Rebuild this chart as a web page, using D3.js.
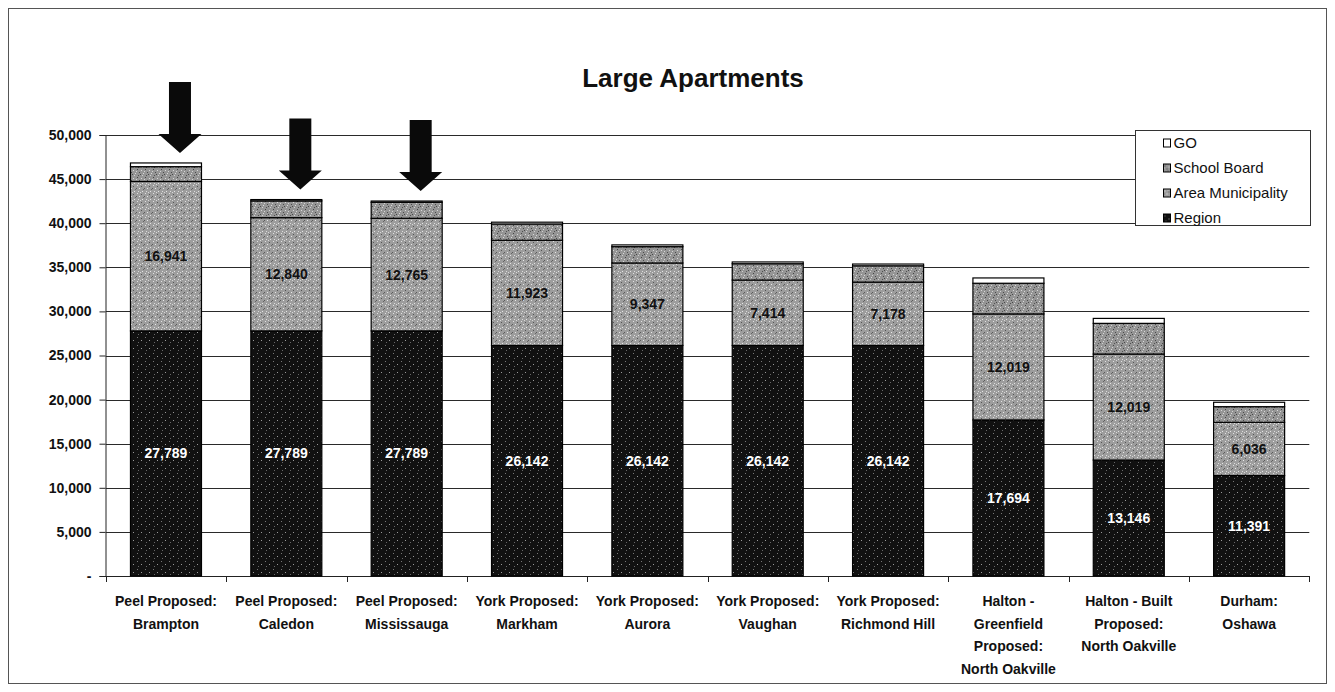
<!DOCTYPE html>
<html>
<head>
<meta charset="utf-8">
<script src="https://cdn.jsdelivr.net/npm/d3@7"></script>
<style>
  html, body { margin: 0; padding: 0; background: #fff; }
  svg { display: block; font-family: "Liberation Sans", Arial, sans-serif; }
</style>
</head>
<body>
<script>
// chart data
var categories = [
  "Peel Proposed:\nBrampton",
  "Peel Proposed:\nCaledon",
  "Peel Proposed:\nMississauga",
  "York Proposed:\nMarkham",
  "York Proposed:\nAurora",
  "York Proposed:\nVaughan",
  "York Proposed:\nRichmond Hill",
  "Halton -\nGreenfield\nProposed:\nNorth Oakville",
  "Halton - Built\nProposed:\nNorth Oakville",
  "Durham:\nOshawa"
];
var region       = [27789, 27789, 27789, 26142, 26142, 26142, 26142, 17694, 13146, 11391];
var areaMunicip  = [16941, 12840, 12765, 11923, 9347, 7414, 7178, 12019, 12019, 6036];
var schoolBoard  = [1680, 1900, 1810, 1850, 1850, 1850, 1850, 3480, 3480, 1770];
var goTransit    = [420, 150, 150, 200, 200, 200, 200, 600, 560, 500];
var seriesNames  = ["Region", "Area Municipality", "School Board", "GO"];
var yTicks       = [0, 5000, 10000, 15000, 20000, 25000, 30000, 35000, 40000, 45000, 50000];
var arrowBars    = [0, 1, 2];

var W = 1335, H = 692;
var svg = d3.select("body").append("svg").attr("width", W).attr("height", H);

// outer frame
svg.append("rect").attr("x", 8.5).attr("y", 8.5).attr("width", W - 17).attr("height", H - 17)
  .attr("fill", "#fff").attr("stroke", "#555").attr("stroke-width", 1);

var x = d3.scaleBand().domain(d3.range(categories.length)).range([105.8, 1309.3]).paddingInner(0.41).paddingOuter(0.205);
var y = d3.scaleLinear().domain([0, 50000]).range([576, 135]);

// texture patterns (scanned halftone look)
var defs = svg.append("defs");
function speckle(id, bg, dots) {
  var p = defs.append("pattern").attr("id", id).attr("patternUnits", "userSpaceOnUse")
    .attr("width", 8).attr("height", 8);
  p.append("rect").attr("width", 8).attr("height", 8).attr("fill", bg);
  dots.forEach(function(q) {
    p.append("rect").attr("x", q[0]).attr("y", q[1]).attr("width", 1).attr("height", 1).attr("fill", q[2]);
  });
}
speckle("pRegion", "#111", [[1,1,"#777"],[5,4,"#999"],[2,6,"#666"]]);
speckle("pArea", "#9d9d9d", [[1,1,"#e0e0e0"],[5,2,"#555"],[3,4,"#e8e8e8"],[7,5,"#666"],[2,7,"#dcdcdc"],[6,7,"#e4e4e4"],[0,4,"#5a5a5a"],[4,0,"#d8d8d8"]]);
speckle("pSchool", "#959595", [[1,1,"#444"],[5,2,"#d8d8d8"],[3,4,"#4a4a4a"],[7,5,"#dadada"],[2,7,"#505050"],[6,7,"#d0d0d0"],[0,3,"#d4d4d4"],[4,6,"#484848"]]);
var fills = ["url(#pRegion)", "url(#pArea)", "url(#pSchool)", "#ffffff"];

// title
svg.append("text").attr("x", 693).attr("y", 87).attr("text-anchor", "middle")
  .attr("font-size", 26).attr("font-weight", "bold").attr("fill", "#111").text("Large Apartments");

// gridlines
svg.append("g").selectAll("line").data(yTicks.filter(function(d) { return d > 0; })).enter().append("line")
  .attr("x1", 105.8).attr("x2", 1309.3)
  .attr("y1", function(d) { return Math.round(y(d)) + 0.5; })
  .attr("y2", function(d) { return Math.round(y(d)) + 0.5; })
  .attr("stroke", "#2a2a2a").attr("stroke-width", 1);

// y axis
var yAxis = d3.axisLeft(y).tickValues(yTicks).tickSize(6).tickPadding(8)
  .tickFormat(function(d) { return d === 0 ? "-" : d3.format(",")(d); });
var gy = svg.append("g").attr("transform", "translate(105.5,0)").call(yAxis);
gy.select(".domain").attr("stroke", "#222");
gy.selectAll(".tick line").attr("stroke", "#222");
gy.selectAll(".tick text").attr("font-size", 14).attr("font-weight", "bold").attr("fill", "#111")
  .attr("font-family", "Liberation Sans, Arial, sans-serif");

// x axis line and ticks at category boundaries
svg.append("line").attr("x1", 105.8).attr("x2", 1309.3).attr("y1", 576.5).attr("y2", 576.5).attr("stroke", "#222");
var step = x.step();
svg.append("g").selectAll("line").data(d3.range(categories.length + 1)).enter().append("line")
  .attr("x1", function(i) { return Math.round(105.8 + i * step) + 0.5; })
  .attr("x2", function(i) { return Math.round(105.8 + i * step) + 0.5; })
  .attr("y1", 576).attr("y2", 582).attr("stroke", "#222");

// category labels
var xl = svg.append("g").selectAll("text").data(categories).enter().append("text")
  .attr("text-anchor", "middle").attr("font-size", 14).attr("font-weight", "bold").attr("fill", "#111")
  .attr("transform", function(d, i) { return "translate(" + (x(i) + x.bandwidth() / 2) + ",606)"; });
xl.selectAll("tspan").data(function(d) { return d.split("\n"); }).enter().append("tspan")
  .attr("x", 0).attr("y", function(d, j) { return j * 22.5; }).text(function(d) { return d; });

// stacked bars
var rows = categories.map(function(c, i) {
  return { i: i, Region: region[i], "Area Municipality": areaMunicip[i], "School Board": schoolBoard[i], GO: goTransit[i] };
});
var stacked = d3.stack().keys(seriesNames)(rows);

var layers = svg.append("g").selectAll("g").data(stacked).enter().append("g")
  .attr("fill", function(d, k) { return fills[k]; });
layers.selectAll("rect").data(function(d) { return d; }).enter().append("rect")
  .attr("x", function(d) { return x(d.data.i); })
  .attr("width", x.bandwidth())
  .attr("y", function(d) { return y(d[1]); })
  .attr("height", function(d) { return y(d[0]) - y(d[1]); })
  .attr("stroke", "#000").attr("stroke-width", 1.2);

// value labels for Region and Area Municipality
[0, 1].forEach(function(k) {
  svg.append("g").selectAll("text").data(stacked[k]).enter().append("text")
    .attr("x", function(d) { return x(d.data.i) + x.bandwidth() / 2; })
    .attr("y", function(d) { return (y(d[0]) + y(d[1])) / 2 + 5; })
    .attr("text-anchor", "middle").attr("font-size", 14).attr("font-weight", "bold")
    .attr("fill", k === 0 ? "#fff" : "#111")
    .text(function(d) { return d3.format(",")(d[1] - d[0]); });
});

// arrows over the Peel bars
var totals = rows.map(function(r) { return r.Region + r["Area Municipality"] + r["School Board"] + r.GO; });
svg.append("g").selectAll("path").data(arrowBars).enter().append("path")
  .attr("d", function(i) {
    var cx = x(i) + x.bandwidth() / 2 + 14;
    var tip = y(totals[i]) - 10;
    var top = tip - 71;
    var neck = tip - 19;
    return "M" + (cx - 11) + "," + top + "H" + (cx + 11) + "V" + neck + "H" + (cx + 21.5) +
      "L" + cx + "," + tip + "L" + (cx - 21.5) + "," + neck + "H" + (cx - 11) + "Z";
  })
  .attr("fill", "#0a0a0a");

// legend
var lg = svg.append("g").attr("transform", "translate(1135.5,130.5)");
lg.append("rect").attr("width", 175).attr("height", 95).attr("fill", "#fff").attr("stroke", "#333");
var legendOrder = [3, 2, 1, 0];
var li = lg.selectAll("g").data(legendOrder).enter().append("g")
  .attr("transform", function(k, j) { return "translate(28," + (9 + j * 25) + ")"; });
li.append("rect").attr("width", 7).attr("height", 8).attr("y", -0.5)
  .attr("fill", function(k) { return fills[k]; }).attr("stroke", "#000");
li.append("text").attr("x", 10).attr("y", 8).attr("font-size", 15).attr("fill", "#111")
  .text(function(k) { return seriesNames[k]; });
</script>
</body>
</html>
